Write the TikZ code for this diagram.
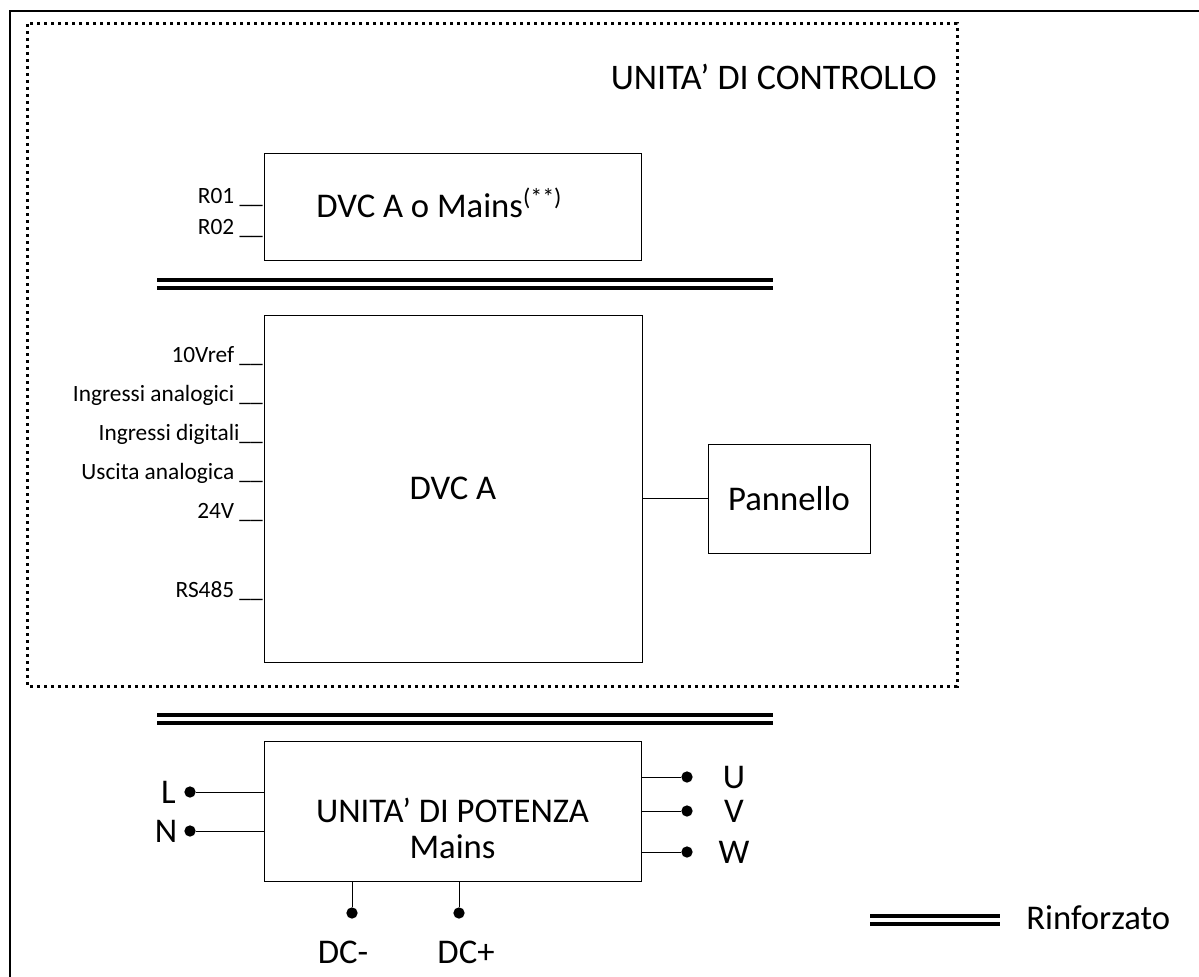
\documentclass[tikz,border=0pt]{standalone}
\usepackage{fontspec}
\setmainfont{Carlito}
\usetikzlibrary{positioning}
\tikzset{x=0.75pt, y=-0.75pt, line width=1.5pt, node distance=1cm}

\begin{document}
\begin{tikzpicture}[block/.style={rectangle, draw=black, fill=white, inner sep=0pt}, bigtext/.style={font=\fontsize{26}{31}\selectfont}, smalltext/.style={font=\fontsize{17.5}{20}\selectfont, inner sep=0pt, anchor=base east},
terminal/.style={circle, fill=black, inner sep=0pt, minimum size=8.5pt}, reinforced/.style={double, line width=3pt, double distance=3pt}, ctrlframe/.style={line width=2.25pt, dash pattern=on 2.5pt off 2.75pt}]
    \useasboundingbox (0,0) rectangle (1199,977);
    \draw[line width=2pt] (10,995) |- (1215,11);
    \draw[ctrlframe] (27,24) rectangle (957,686);
    \node[font=\fontsize{27}{31}\selectfont, inner sep=0pt, anchor=base east] (ctrltitle) at (937,90) {UNITA’ DI CONTROLLO};

    % control unit
    \node[block, minimum width=282.75pt, minimum height=80.25pt] (mains) at (452.5,206.5) {};
    \node[bigtext, inner sep=0pt] (mainstext) at (439,203) {DVC A o Mains\raisebox{9pt}{\fontsize{18}{20}\selectfont(**)}};
    \node[smalltext] (r01) at (263,204) {R01 \_\_};
    \node[smalltext] (r02) at (263,234) {R02 \_\_};
    \draw[reinforced] (157,284) -- (773,284);

    \node[block, bigtext, minimum width=283.5pt, minimum height=260.25pt] (dvc) at (453,488.5) {DVC A};
    \foreach \txt/\yy in {10Vref \_\_/362, Ingressi analogici \_\_/401, Ingressi digitali\_\_/440, Uscita analogica \_\_/479, 24V \_\_/518, RS485 \_\_/597}
        \node[smalltext] at (263,\yy) {\txt};
    \node[block, bigtext, minimum width=121.5pt, minimum height=81.75pt] (panel) at (789,498.5) {Pannello};
    \draw (panel.west) -- (panel.west -| dvc.east);

    % power unit
    \draw[reinforced] (157,719) -- (773,719);
    \node[block, minimum width=282.75pt, minimum height=105pt] (power) at (452.5,811) {};
    \node[bigtext, align=center, inner sep=0pt] (powertext) at (452.5,828) {UNITA’ DI POTENZA\\[-4pt]Mains};

    \node[terminal] (ldot) at (190,792) {};
    \node[terminal] (ndot) at (190,831) {};
    \node[bigtext, inner sep=0pt, left=6pt of ldot] (l) {L};
    \node[bigtext, inner sep=0pt, left=5pt of ndot] (n) {N};
    \draw (ldot) -- (ldot -| power.west);
    \draw (ndot) -- (ndot -| power.west);

    \node[terminal] (udot) at (687,777) {};
    \node[terminal] (vdot) at (687,811) {};
    \node[terminal] (wdot) at (687,852) {};
    \node[bigtext, inner sep=0pt] (u) at (734,777) {U};
    \node[bigtext, inner sep=0pt] (v) at (734,811) {V};
    \node[bigtext, inner sep=0pt] (w) at (734,852) {W};
    \draw (udot) -- (udot -| power.east);
    \draw (vdot) -- (vdot -| power.east);
    \draw (wdot) -- (wdot -| power.east);

    \node[terminal] (dcmdot) at (352,913) {};
    \node[terminal] (dcpdot) at (459,913) {};
    \node[bigtext, inner sep=0pt] (dcm) at (343,952) {DC-};
    \node[bigtext, inner sep=0pt] (dcp) at (466,952) {DC+};
    \draw (dcmdot) -- (dcmdot |- power.south);
    \draw (dcpdot) -- (dcpdot |- power.south);

    % legend
    \coordinate (legstart) at (870,919.5);
    \coordinate (legend) at (1000,919.5);
    \draw[reinforced] (legstart) -- (legend);
    \node[bigtext, inner sep=0pt, anchor=west] (rinf) at (1026,918) {Rinforzato};
\end{tikzpicture}
\end{document}
